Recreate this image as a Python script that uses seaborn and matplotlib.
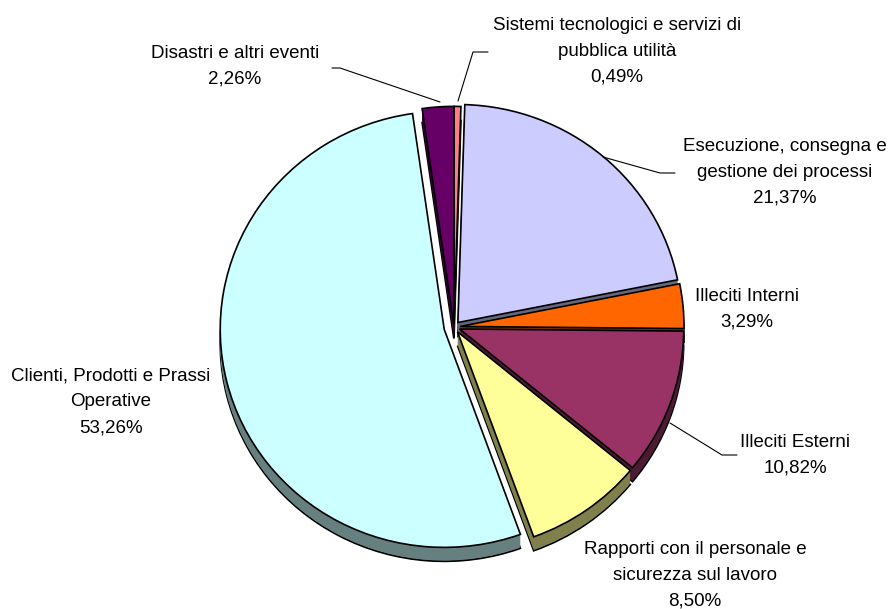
import matplotlib
matplotlib.use("Agg")
import matplotlib.pyplot as plt
import matplotlib.colors as mcolors
import seaborn as sns

# dati (senso orario partendo dalle ore 12)
categories = [
    "Sistemi tecnologici e servizi di\npubblica utilità",
    "Esecuzione, consegna e\ngestione dei processi",
    "Illeciti Interni",
    "Illeciti Esterni",
    "Rapporti con il personale e\nsicurezza sul lavoro",
    "Clienti, Prodotti e Prassi\nOperative",
    "Disastri e altri eventi",
]
values = [0.49, 21.37, 3.29, 10.82, 8.50, 53.26, 2.26]
colors = ["#FF8080", "#CCCCFF", "#FF6600", "#993366", "#FFFF99", "#CCFFFF", "#660066"]

sns.set_style("white")
plt.rcParams["font.family"] = ["Liberation Sans", "DejaVu Sans"]

W, H = 893, 609
RX, RY = 224, 218      # semiassi della torta in pixel
CX, CY = 454, 327      # centro in pixel
DEPTH = 14             # spessore "3D" in pixel

explode = [0.012, 0.027, 0.027, 0.027, 0.027, 0.045, 0.012]
draw_rank = [0, 2, 3, 4, 6, 5, 1]   # ordine di disegno, dal fondo al davanti

label_pos = [(617, 51), (785, 172), (747, 309), (795, 455),
             (695, 575), (111, 402), (235, 66)]
leaders = [
    [(458, 101), (473, 52), (488, 52)],
    [(603, 157), (660, 173), (675, 173)],
    [(670, 423), (722, 455), (737, 455)],
    [(332, 68), (340, 68), (440, 102)],
]


def px(x, y):
    return x / RX, (H - y) / RY


fig = plt.figure(figsize=(W / 100, H / 100), dpi=100)
ax = fig.add_axes([0, 0, 1, 1])

side_colors = [tuple(c * 0.5 for c in mcolors.to_rgb(col)) for col in colors]

for d in range(DEPTH, -1, -1):
    cx, cy = px(CX, CY + d)
    face = colors if d == 0 else side_colors
    outline = d == 0 or d == DEPTH
    wedges, _ = ax.pie(
        values,
        colors=face,
        explode=explode,
        startangle=90,
        counterclock=False,
        radius=1,
        center=(cx, cy),
        frame=True,
        wedgeprops=dict(edgecolor="black" if outline else "none",
                        linewidth=1.2 if outline else 0),
    )
    for w, r in zip(wedges, draw_rank):
        w.set_zorder(r * 100 + (DEPTH - d) + 1)

for cat, v, (x, y) in zip(categories, values, label_pos):
    pct = f"{v:.2f}".replace(".", ",") + "%"
    ax.text(*px(x, y), f"{cat}\n{pct}", ha="center", va="center",
            fontsize=13.5, linespacing=1.68, color="black", zorder=1000)

for pts in leaders:
    xs, ys = zip(*[px(x, y) for x, y in pts])
    ax.plot(xs, ys, color="black", lw=0.8, zorder=1000)

ax.set_aspect("auto")
ax.set_xlim(0, W / RX)
ax.set_ylim(0, H / RY)
ax.axis("off")

fig.savefig("out.png", dpi=100)
